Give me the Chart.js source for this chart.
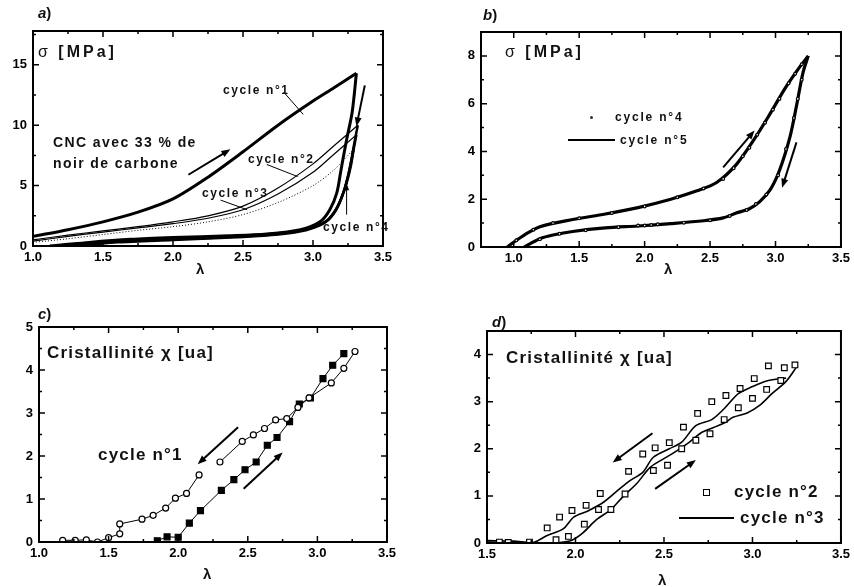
<!DOCTYPE html>
<html>
<head>
<meta charset="utf-8">
<script src="https://cdn.jsdelivr.net/npm/chart.js@4.4.1/dist/chart.umd.min.js"></script>
<style>
  body { margin: 0; background: #fff; width: 854px; height: 587px; overflow: hidden; position: relative;
         font-family: "Liberation Sans", Arial, sans-serif; }
  canvas { position: absolute; }
  .t { position: absolute; font-weight: bold; color: #111; white-space: nowrap; line-height: 1; z-index: 2; }
  .lab { font-size: 15px; }
  .sig { font-size: 16px; letter-spacing: 3px; }
  .cyc { font-size: 12px; letter-spacing: 1.6px; }
  .cri { font-size: 17px; letter-spacing: 1.2px; }
  .big { font-size: 17px; letter-spacing: 1.2px; }
  .mark { position: absolute; z-index: 2; }
</style>
</head>
<body>
<canvas id="ga"></canvas>
<canvas id="gb"></canvas>
<canvas id="gc"></canvas>
<canvas id="gd"></canvas>

<!-- lettres des panneaux -->
<div class="t lab" style="left:38px;top:5px"><i>a</i>)</div>
<div class="t lab" style="left:483px;top:7px"><i>b</i>)</div>
<div class="t lab" style="left:38px;top:306px"><i>c</i>)</div>
<div class="t lab" style="left:492px;top:314px"><i>d</i>)</div>

<!-- a) -->
<div class="t sig" style="left:38px;top:44px"><span style="font-weight:normal">σ</span> [MPa]</div>
<div class="t" style="left:53px;top:135px;font-size:14px;letter-spacing:1.4px">CNC avec 33 % de</div>
<div class="t" style="left:53px;top:156px;font-size:14px;letter-spacing:1.4px">noir de carbone</div>
<div class="t cyc" style="left:223px;top:84px">cycle n°1</div>
<div class="t cyc" style="left:248px;top:153px">cycle n°2</div>
<div class="t cyc" style="left:202px;top:187px">cycle n°3</div>
<div class="t cyc" style="left:323px;top:221px">cycle n°4</div>
<div class="t" style="left:196px;top:261px;font-size:15px">λ</div>

<!-- b) -->
<div class="t sig" style="left:505px;top:44px"><span style="font-weight:normal">σ</span> [MPa]</div>
<div class="mark" style="left:590px;top:116px;width:3px;height:3px;border-radius:50%;background:#333"></div>
<div class="t cyc" style="left:615px;top:111px;font-size:12px;letter-spacing:1.8px">cycle n°4</div>
<div class="mark" style="left:568px;top:139px;width:47px;height:2px;background:#000"></div>
<div class="t cyc" style="left:620px;top:134px;font-size:12px;letter-spacing:1.8px">cycle n°5</div>
<div class="t" style="left:664px;top:261px;font-size:15px">λ</div>

<!-- c) -->
<div class="t cri" style="left:47px;top:344px">Cristallinité χ [ua]</div>
<div class="t big" style="left:98px;top:446px">cycle n°1</div>
<div class="t" style="left:203px;top:566px;font-size:15px">λ</div>

<!-- d) -->
<div class="t cri" style="left:506px;top:349px">Cristallinité χ [ua]</div>
<div class="mark" style="left:703px;top:489px;width:5px;height:5px;border:1.3px solid #000;background:#fff"></div>
<div class="t big" style="left:734px;top:483px">cycle n°2</div>
<div class="mark" style="left:679px;top:517px;width:55px;height:2px;background:#000"></div>
<div class="t big" style="left:740px;top:509px">cycle n°3</div>
<div class="t" style="left:658px;top:572px;font-size:15px">λ</div>

<script>
const FONT = '"Liberation Sans", Arial, sans-serif';

// ---------- a) contrainte σ, cycles 1 à 4 ----------
const aTicksX = [1.0, 1.5, 2.0, 2.5, 3.0, 3.5];
const aTicksY = [0, 5, 10, 15];
const aCycle1Load = [[1.0,0.8],[1.25,1.35],[1.5,2.0],[1.75,2.8],[2.0,3.9],[2.25,5.7],[2.5,7.8],[2.75,10.0],[3.0,12.0],[3.15,13.1],[3.31,14.3]];
const aCycle1Unload = [[3.31,14.3],[3.28,11.1],[3.24,8.8],[3.2,6.3],[3.17,4.4],[3.12,3.0],[3.05,2.0],[2.91,1.35],[2.67,1.0],[2.4,0.85],[2.0,0.7],[1.7,0.55],[1.4,0.3],[1.2,0.08],[1.12,0.0]];
const aCycle2Load = [[1.0,0.5],[1.25,0.9],[1.5,1.25],[1.75,1.6],[2.0,2.0],[2.25,2.5],[2.5,3.3],[2.75,4.8],[3.0,6.8],[3.15,8.3],[3.32,10.0]];
const aCycle2Unload = [[3.32,10.0],[3.29,8.2],[3.26,6.3],[3.22,4.5],[3.17,3.1],[3.1,2.1],[2.97,1.45],[2.75,1.05],[2.5,0.85],[2.0,0.62],[1.6,0.42],[1.35,0.15],[1.22,0.0]];
const aCycle3Load = [[1.0,0.4],[1.25,0.8],[1.5,1.15],[1.75,1.5],[2.0,1.85],[2.25,2.3],[2.5,3.0],[2.75,4.3],[3.0,6.1],[3.15,7.6],[3.31,9.2]];
const aCycle3Unload = [[3.31,9.2],[3.28,7.4],[3.25,5.8],[3.21,4.2],[3.16,2.9],[3.09,2.0],[2.96,1.4],[2.75,1.0],[2.5,0.8],[2.0,0.55],[1.6,0.35],[1.35,0.1],[1.25,0.0]];
const aCycle4Load = [[1.0,0.3],[1.25,0.6],[1.5,0.95],[1.75,1.3],[2.0,1.6],[2.25,2.0],[2.5,2.6],[2.75,3.6],[3.0,5.0],[3.15,6.3],[3.29,8.0]];
const aCycle4Unload = [[3.29,8.0],[3.27,6.6],[3.24,5.2],[3.2,3.9],[3.15,2.8],[3.08,1.9],[2.95,1.3],[2.75,0.95],[2.5,0.75],[2.0,0.5],[1.6,0.3],[1.38,0.05],[1.3,0.0]];
const aArrows = [[2.11,5.9,2.41,8.0],[3.37,13.3,3.31,9.9]];
const aThinArrows = [[3.24,2.6,3.24,5.2]];
const aPointers = [[2.79,12.75,2.93,10.9],[2.67,6.75,2.89,5.75],[2.34,3.8,2.53,3.0]];

// ---------- b) cycles 4 et 5 ----------
const bTicksX = [1.0, 1.5, 2.0, 2.5, 3.0, 3.5];
const bTicksY = [0, 2, 4, 6, 8];
const bCycle5Load = [[0.95,0],[1.0,0.2],[1.08,0.5],[1.2,0.85],[1.45,1.15],[1.7,1.38],[1.95,1.65],[2.2,2.0],[2.4,2.35],[2.55,2.7],[2.7,3.45],[2.83,4.45],[2.95,5.5],[3.08,6.7],[3.18,7.5],[3.25,8.0]];
const bCycle5Unload = [[3.25,8.0],[3.21,7.3],[3.16,5.9],[3.11,4.6],[3.03,3.2],[2.96,2.4],[2.88,1.9],[2.8,1.6],[2.7,1.42],[2.6,1.22],[2.45,1.1],[2.2,0.98],[1.95,0.88],[1.7,0.8],[1.45,0.65],[1.3,0.5],[1.2,0.35],[1.12,0.12],[1.08,0]];
const bCycle4 = [[1.02,0.28],[1.15,0.72],[1.3,1.0],[1.5,1.2],[1.75,1.42],[2.0,1.7],[2.25,2.08],[2.45,2.45],[2.6,2.85],[2.68,3.3],[2.75,3.8],[2.8,4.15],[2.86,4.7],[2.92,5.2],[2.98,5.75],[3.03,6.2],[3.1,6.85],[3.15,7.25],[3.2,7.65],[3.2,7.0],[3.17,6.2],[3.14,5.4],[3.08,4.1],[3.02,3.0],[2.93,2.2],[2.85,1.8],[2.78,1.55],[2.65,1.3],[2.5,1.12],[2.3,1.02],[2.1,0.95],[2.05,0.92],[2.0,0.9],[1.95,0.9],[1.8,0.83],[1.55,0.7],[1.35,0.55],[1.2,0.32]];
const bArrows = [[2.6,3.33,2.84,4.88],[3.16,4.38,3.05,2.48]];

// ---------- c) cristallinité, cycle 1 ----------
const cTicksX = [1.0, 1.5, 2.0, 2.5, 3.0, 3.5];
const cTicksY = [0, 1, 2, 3, 4, 5];
const cUnloadLow = [[1.17,0.04],[1.26,0.04],[1.34,0.05],[1.42,0.0],[1.5,0.1],[1.58,0.19],[1.58,0.42],[1.74,0.53],[1.82,0.62],[1.91,0.79],[1.98,1.02],[2.06,1.13],[2.15,1.56]];
const cUnloadHigh = [[2.30,1.86],[2.46,2.34],[2.54,2.49],[2.62,2.64],[2.70,2.84],[2.78,2.87],[2.86,3.13],[2.94,3.35],[3.10,3.7],[3.19,4.04],[3.27,4.43]];
const cLoad = [[1.85,0.03],[1.92,0.12],[2.0,0.11],[2.08,0.44],[2.16,0.73],[2.31,1.2],[2.40,1.45],[2.48,1.68],[2.56,1.86],[2.64,2.25],[2.71,2.43],[2.80,2.8],[2.87,3.21],[2.95,3.35],[3.04,3.8],[3.11,4.11],[3.19,4.38]];
const cArrows = [[2.43,2.67,2.14,1.81],[2.47,1.24,2.75,2.08]];

// ---------- d) cristallinité, cycles 2 et 3 ----------
const dTicksX = [1.5, 2.0, 2.5, 3.0, 3.5];
const dTicksY = [0, 1, 2, 3, 4];
const dCycle2Up = [[1.84,0.32],[1.91,0.55],[1.98,0.69],[2.06,0.8],[2.14,1.05],[2.30,1.52],[2.38,1.89],[2.45,2.02],[2.53,2.13],[2.61,2.46],[2.69,2.75],[2.77,3.0],[2.85,3.13],[2.93,3.28],[3.01,3.49],[3.09,3.76],[3.18,3.72],[3.24,3.78]];
const dCycle2Low = [[1.57,0.02],[1.62,0.01],[1.74,0.02],[1.89,0.07],[1.96,0.14],[2.05,0.4],[2.13,0.71],[2.20,0.71],[2.28,1.04],[2.44,1.54],[2.52,1.65],[2.60,2.0],[2.68,2.18],[2.76,2.32],[2.84,2.62],[2.92,2.87],[3.00,3.07],[3.08,3.26],[3.16,3.45]];
const dCycle3Up = [[1.5,0.05],[1.65,0.04],[1.76,0.01],[1.84,0.16],[1.93,0.3],[1.99,0.55],[2.07,0.68],[2.16,0.87],[2.24,1.12],[2.31,1.33],[2.38,1.5],[2.44,1.82],[2.53,2.0],[2.6,2.14],[2.68,2.49],[2.77,2.62],[2.84,2.85],[2.92,3.17],[3.0,3.32],[3.08,3.44],[3.16,3.49],[3.19,3.5]];
const dCycle3Low = [[1.5,0.02],[1.82,0.0],[1.91,0.01],[1.98,0.06],[2.04,0.21],[2.12,0.5],[2.2,0.71],[2.27,0.99],[2.35,1.28],[2.42,1.6],[2.49,1.77],[2.57,1.95],[2.64,2.13],[2.71,2.34],[2.78,2.45],[2.85,2.57],[2.89,2.67],[2.97,2.76],[3.04,2.92],[3.11,3.17],[3.19,3.43],[3.25,3.74]];
const dArrows = [[2.435,2.33,2.21,1.71],[2.45,1.15,2.68,1.76]];

const pts = arr => arr.map(p => ({x: p[0], y: p[1]}));

function courbe(arr, w, dash) {
    return {data: pts(arr), showLine: true, borderColor: '#000', borderWidth: w, borderDash: dash || [],
            pointRadius: 0, tension: 0.3, fill: false};
}
function symboles(arr, style, r, fond, relie) {
    return {data: pts(arr), showLine: !!relie, borderColor: '#000', borderWidth: 1, tension: 0,
            pointStyle: style, pointRadius: r, pointBackgroundColor: fond,
            pointBorderColor: '#000', pointBorderWidth: 1.2};
}

// cadre + graduations rentrantes
const cadre = {
    id: 'cadre',
    afterDatasetsDraw(chart, args, o) {
        const {ctx, chartArea: a, scales: {x, y}} = chart;
        ctx.save();
        ctx.strokeStyle = '#000';
        ctx.lineWidth = 2;
        ctx.strokeRect(a.left, a.top, a.right - a.left, a.bottom - a.top);
        ctx.lineWidth = 1.5;
        ctx.beginPath();
        for (let v = x.min; v <= x.max + 1e-9; v += o.mx) {
            const px = x.getPixelForValue(v);
            const major = x.ticks.some(t => Math.abs(t.value - v) < 1e-6);
            const len = major ? 6 : 3;
            ctx.moveTo(px, a.bottom); ctx.lineTo(px, a.bottom - len);
            ctx.moveTo(px, a.top); ctx.lineTo(px, a.top + len);
        }
        for (let v = y.min; v <= y.max + 1e-9; v += o.my) {
            const py = y.getPixelForValue(v);
            const major = y.ticks.some(t => Math.abs(t.value - v) < 1e-6);
            const len = major ? 6 : 3;
            ctx.moveTo(a.left, py); ctx.lineTo(a.left + len, py);
            ctx.moveTo(a.right, py); ctx.lineTo(a.right - len, py);
        }
        ctx.stroke();
        ctx.restore();
    }
};

function fleche(ctx, x1, y1, x2, y2, w, lg, lw) {
    const ang = Math.atan2(y2 - y1, x2 - x1);
    ctx.lineWidth = w;
    ctx.beginPath();
    ctx.moveTo(x1, y1);
    ctx.lineTo(x2 - lg * 0.6 * Math.cos(ang), y2 - lg * 0.6 * Math.sin(ang));
    ctx.stroke();
    ctx.beginPath();
    ctx.moveTo(x2, y2);
    ctx.lineTo(x2 - lg * Math.cos(ang) + lw * Math.sin(ang), y2 - lg * Math.sin(ang) - lw * Math.cos(ang));
    ctx.lineTo(x2 - lg * Math.cos(ang) - lw * Math.sin(ang), y2 - lg * Math.sin(ang) + lw * Math.cos(ang));
    ctx.closePath();
    ctx.fill();
}

// flèches et traits de repère, en coordonnées des données
const marques = {
    id: 'marques',
    afterDatasetsDraw(chart, args, o) {
        const {ctx, scales: {x, y}} = chart;
        const X = v => x.getPixelForValue(v), Y = v => y.getPixelForValue(v);
        ctx.save();
        ctx.strokeStyle = '#000';
        ctx.fillStyle = '#000';
        (o.traits || []).forEach(s => {
            ctx.lineWidth = 1;
            ctx.beginPath();
            ctx.moveTo(X(s[0]), Y(s[1]));
            ctx.lineTo(X(s[2]), Y(s[3]));
            ctx.stroke();
        });
        (o.fleches || []).forEach(s => fleche(ctx, X(s[0]), Y(s[1]), X(s[2]), Y(s[3]), 2, 9, 3.5));
        (o.flechesFines || []).forEach(s => fleche(ctx, X(s[0]), Y(s[1]), X(s[2]), Y(s[3]), 1, 7, 2.5));
        ctx.restore();
    }
};

const tickFont = {family: FONT, size: 13, weight: 'bold'};

function panneau(id, box, zone, ax, ay, datasets, marks) {
    const cv = document.getElementById(id);
    cv.width = box.w; cv.height = box.h;
    cv.style.left = box.x + 'px'; cv.style.top = box.y + 'px';
    const l = zone.l - box.x, t = zone.t - box.y, r = zone.r - box.x, b = zone.b - box.y;
    return new Chart(cv, {
        type: 'scatter',
        data: {datasets},
        options: {
            responsive: false, animation: false, devicePixelRatio: 1,
            layout: {autoPadding: false, padding: {left: 0, top: t, right: box.w - r, bottom: 0}},
            plugins: {
                legend: {display: false}, tooltip: {enabled: false},
                cadre: {mx: ax.minor, my: ay.minor},
                marques: marks
            },
            scales: {
                x: {
                    type: 'linear', min: ax.min, max: ax.max,
                    afterBuildTicks: s => { s.ticks = ax.ticks.map(v => ({value: v})); },
                    afterFit: s => { s.height = box.h - b; },
                    grid: {display: false, drawTicks: false}, border: {display: false},
                    ticks: {callback: v => v.toFixed(1), font: tickFont, color: '#000', padding: 4, maxRotation: 0, autoSkip: false}
                },
                y: {
                    type: 'linear', min: ay.min, max: ay.max,
                    afterBuildTicks: s => { s.ticks = ay.ticks.map(v => ({value: v})); },
                    afterFit: s => { s.width = l; },
                    grid: {display: false, drawTicks: false}, border: {display: false},
                    ticks: {callback: v => String(v), font: tickFont, color: '#000', padding: 6, autoSkip: false}
                }
            }
        },
        plugins: [cadre, marques]
    });
}

panneau('ga', {x: 0, y: 0, w: 430, h: 290}, {l: 33, t: 31, r: 383, b: 246},
    {min: 1.0, max: 3.5, ticks: aTicksX, minor: 0.25},
    {min: 0, max: 17.8, ticks: aTicksY, minor: 2.5},
    [
        courbe(aCycle1Load, 3), courbe(aCycle1Unload, 3),
        courbe(aCycle2Load, 1.2), courbe(aCycle2Unload, 2.5),
        courbe(aCycle3Load, 1.2), courbe(aCycle3Unload, 2.5),
        courbe(aCycle4Load, 1, [1, 2]), courbe(aCycle4Unload, 2.5)
    ],
    {fleches: aArrows, flechesFines: aThinArrows, traits: aPointers});

panneau('gb', {x: 430, y: 0, w: 424, h: 290}, {l: 481, t: 32, r: 851, b: 247},
    {min: 0.75, max: 3.5, ticks: bTicksX, minor: 0.25},
    {min: 0, max: 9, ticks: bTicksY, minor: 1},
    [
        Object.assign(symboles(bCycle4, 'circle', 1.4, '#fff'), {order: 0}),
        Object.assign(courbe(bCycle5Load, 3.2), {order: 1}),
        Object.assign(courbe(bCycle5Unload, 3.2), {order: 1})
    ],
    {fleches: bArrows});

panneau('gc', {x: 0, y: 290, w: 430, h: 297}, {l: 39, t: 327, r: 387, b: 542},
    {min: 1.0, max: 3.5, ticks: cTicksX, minor: 0.25},
    {min: 0, max: 5, ticks: cTicksY, minor: 0.5},
    [
        symboles(cUnloadLow, 'circle', 3, '#fff', true),
        symboles(cUnloadHigh, 'circle', 3, '#fff', true),
        symboles(cLoad, 'rect', 4.2, '#000', true)
    ],
    {fleches: cArrows});

panneau('gd', {x: 430, y: 290, w: 424, h: 297}, {l: 487, t: 331, r: 843, b: 543},
    {min: 1.5, max: 3.5, ticks: dTicksX, minor: 0.25},
    {min: 0, max: 4.5, ticks: dTicksY, minor: 0.5},
    [
        Object.assign(symboles(dCycle2Up, 'rect', 4, '#fff'), {order: 0}),
        Object.assign(symboles(dCycle2Low, 'rect', 4, '#fff'), {order: 0}),
        Object.assign(courbe(dCycle3Up, 1.6), {order: 1}),
        Object.assign(courbe(dCycle3Low, 1.6), {order: 1})
    ],
    {fleches: dArrows});
</script>
</body>
</html>
